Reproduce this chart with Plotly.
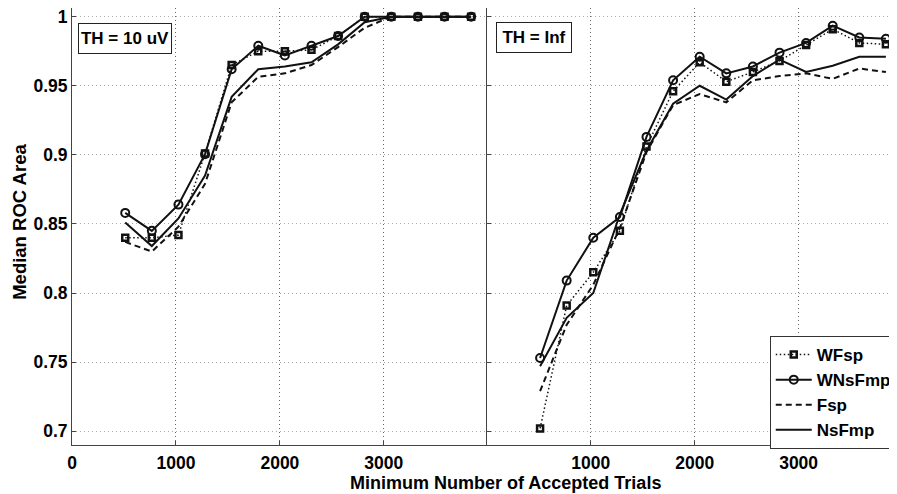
import plotly.graph_objects as go

# ---------------- data ----------------
trials = [512, 768, 1024, 1280, 1536, 1792, 2048, 2304, 2560, 2816, 3072, 3328, 3584, 3840]

# Left panel: TH = 10 uV
l_wfsp   = [0.840, 0.840, 0.842, 0.901, 0.965, 0.975, 0.975, 0.976, 0.986, 1.0, 1.0, 1.0, 1.0, 1.0]
l_wnsfmp = [0.858, 0.845, 0.864, 0.9005, 0.962, 0.979, 0.972, 0.979, 0.986, 1.0, 1.0, 1.0, 1.0, 1.0]
l_fsp    = [0.837, 0.830, 0.848, 0.879, 0.938, 0.9565, 0.959, 0.965, 0.978, 0.992, 1.0, 1.0, 1.0, 1.0]
l_nsfmp  = [0.851, 0.834, 0.854, 0.885, 0.942, 0.962, 0.964, 0.967, 0.980, 0.996, 1.0, 1.0, 1.0, 1.0]

# Right panel: TH = Inf
r_wfsp   = [0.702, 0.791, 0.815, 0.845, 0.906, 0.946, 0.967, 0.953, 0.960, 0.968, 0.9795, 0.991, 0.981, 0.980]
r_wnsfmp = [0.753, 0.809, 0.840, 0.855, 0.913, 0.954, 0.971, 0.959, 0.964, 0.974, 0.981, 0.9935, 0.985, 0.984]
r_fsp    = [0.729, 0.777, 0.806, 0.847, 0.902, 0.936, 0.944, 0.938, 0.954, 0.957, 0.959, 0.955, 0.9625, 0.960]
r_nsfmp  = [0.747, 0.782, 0.800, 0.857, 0.903, 0.937, 0.950, 0.940, 0.957, 0.969, 0.960, 0.9645, 0.971, 0.971]

series_names = ["WFsp", "WNsFmp", "Fsp", "NsFmp"]
panel_labels = ["TH = 10 uV", "TH = Inf"]
y_ticks = [0.7, 0.75, 0.8, 0.85, 0.9, 0.95, 1.0]
y_ticktext = ["0.7", "0.75", "0.8", "0.85", "0.9", "0.95", "1"]
x_ticks_left = [0, 1000, 2000, 3000]
x_ticks_right = [1000, 2000, 3000]
x_title = "Minimum Number of Accepted Trials"
y_title = "Median ROC Area"

# ---------------- figure ----------------
OFF = 8  # page body margin offset in the screenshot
W, H = 897 - OFF, 494 - OFF
ML, MR, MT, MB = 64, 0, 0, 49
PW, PH = W - ML - MR, H - MT - MB
FONT = "Liberation Sans, Arial, Helvetica, sans-serif"

def px_x(p):
    return (p - OFF - ML) / PW

def px_y(p):
    return (H - MB - (p - OFF)) / PH

styles = {
    "WFsp":   dict(line=dict(color="#111", width=1.5, dash="1.5px,2.5px"),
                   marker=dict(symbol="square-open", size=6, color="#111", line=dict(width=2.5)),
                   mode="lines+markers"),
    "WNsFmp": dict(line=dict(color="#111", width=2),
                   marker=dict(symbol="circle-open", size=8, color="#111", line=dict(width=2)),
                   mode="lines+markers"),
    "Fsp":    dict(line=dict(color="#111", width=2, dash="6px,4px"), mode="lines"),
    "NsFmp":  dict(line=dict(color="#111", width=2), mode="lines"),
}

fig = go.Figure()
left = dict(zip(series_names, [l_wfsp, l_wnsfmp, l_fsp, l_nsfmp]))
right = dict(zip(series_names, [r_wfsp, r_wnsfmp, r_fsp, r_nsfmp]))

for name in ["NsFmp", "Fsp", "WFsp", "WNsFmp"]:
    fig.add_trace(go.Scatter(x=trials, y=left[name], name=name, xaxis="x", yaxis="y",
                             showlegend=False, **styles[name]))
for name in ["NsFmp", "Fsp", "WFsp", "WNsFmp"]:
    fig.add_trace(go.Scatter(x=trials, y=right[name], name=name, xaxis="x2", yaxis="y2",
                             showlegend=True, legendrank=series_names.index(name), **styles[name]))

split = px_x(489.4)
px_per_unit = 0.1045
left_max = (489.4 - 72.3) / px_per_unit
right_max = (897 - 489.6) / px_per_unit
y_top = 1.0 + (16.7 - OFF - MT) / 1381.0

axis_common = dict(showline=True, linecolor="#444", linewidth=1,
                   showgrid=True, griddash="1px,3px", gridwidth=1,
                   ticks="inside", ticklen=4, tickcolor="#444", zeroline=False,
                   ticklabeloverflow="allow",
                   tickfont=dict(family=FONT, size=17.5, color="black", weight="bold"))

fig.update_layout(
    width=W, height=H,
    margin=dict(l=ML, r=MR, t=MT, b=MB),
    paper_bgcolor="white", plot_bgcolor="white",
    xaxis=dict(domain=[0, split], range=[0, left_max], tickvals=x_ticks_left,
               ticktext=[str(v) for v in x_ticks_left], anchor="y", gridcolor="#666",
               ticklabelstandoff=2, **axis_common),
    xaxis2=dict(domain=[split, 1], range=[0, right_max], tickvals=x_ticks_right,
                ticktext=[str(v) for v in x_ticks_right], anchor="y2", gridcolor="#666",
                ticklabelstandoff=2, **axis_common),
    yaxis=dict(domain=[0, 1], range=[0.69, y_top], tickvals=y_ticks, ticktext=y_ticktext,
               anchor="x", gridcolor="#aaa", **axis_common),
    yaxis2=dict(domain=[0, 1], range=[0.69, y_top], tickvals=y_ticks, showticklabels=False,
                anchor="x2", matches="y", gridcolor="#aaa", **axis_common),
    legend=dict(x=px_x(774), y=px_y(336), xanchor="left", yanchor="top",
                bgcolor="white", bordercolor="#333", borderwidth=1,
                font=dict(family=FONT, size=17, color="black", weight="bold"),
                itemwidth=36, tracegroupgap=0, traceorder="normal"),
    showlegend=True,
)

annotations = [
    dict(text=panel_labels[0], x=px_x(125.3), y=px_y(38), xref="paper", yref="paper",
         xanchor="center", yanchor="middle",
         showarrow=False, width=90, height=27, borderpad=1, borderwidth=1, bordercolor="#222",
         bgcolor="white", font=dict(family=FONT, size=17, color="black", weight="bold")),
    dict(text=panel_labels[1], x=px_x(537), y=px_y(37.7), xref="paper", yref="paper",
         xanchor="center", yanchor="middle",
         showarrow=False, width=72, height=27, borderpad=1, borderwidth=1, bordercolor="#222",
         bgcolor="white", font=dict(family=FONT, size=17, color="black", weight="bold")),
    dict(text=x_title, x=px_x(508.5), y=px_y(483), xref="paper", yref="paper",
         showarrow=False, xanchor="center", yanchor="middle",
         font=dict(family=FONT, size=18, color="black", weight="bold")),
    dict(text=y_title, x=px_x(18.5), y=px_y(222), xref="paper", yref="paper",
         showarrow=False, textangle=-90, xanchor="center", yanchor="middle",
         font=dict(family=FONT, size=18.5, color="black", weight="bold")),
]
fig.update_layout(annotations=annotations)

fig.write_html("out.html")
